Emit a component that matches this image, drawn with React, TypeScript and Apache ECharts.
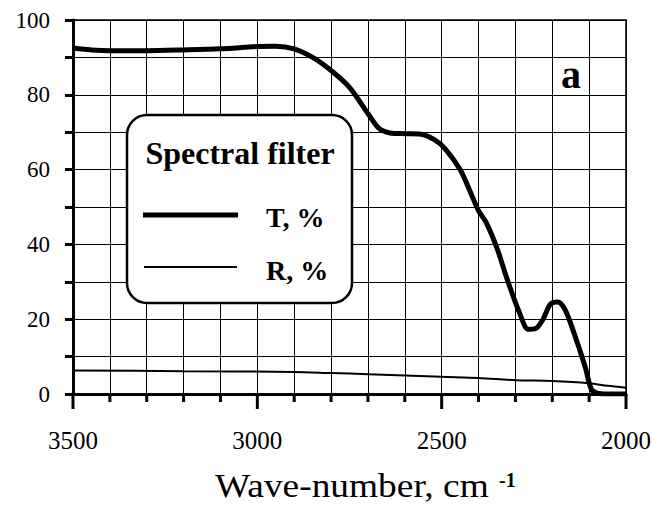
import React, { useEffect, useRef } from "react";
import * as echarts from "echarts";

const tWave = [3500, 3450, 3400, 3300, 3200, 3100, 3000, 2950, 2900, 2850, 2800, 2750, 2700, 2670, 2640, 2600, 2560, 2520, 2490, 2450, 2420, 2400, 2380, 2350, 2320, 2290, 2265, 2245, 2225, 2205, 2185, 2165, 2140, 2110, 2095, 2080, 2050, 2000];
const tValues = [92.5, 92.0, 91.8, 91.8, 92.0, 92.3, 92.9, 93.0, 92.3, 90.0, 86.5, 82.0, 75.0, 71.0, 69.8, 69.6, 69.5, 68.0, 65.5, 60.0, 53.5, 49.0, 46.0, 39.0, 30.0, 22.0, 17.3, 17.5, 20.0, 24.0, 24.6, 22.5, 16.0, 7.0, 1.5, 0.3, 0.0, 0.0];
const rWave = [3500, 3200, 2900, 2800, 2700, 2500, 2400, 2300, 2200, 2100, 2050, 2000];
const rValues = [6.3, 6.1, 5.9, 5.6, 5.3, 4.6, 4.3, 3.7, 3.5, 2.9, 2.2, 1.7];
const xTickPositions = [3500, 3400, 3300, 3200, 3100, 3000, 2900, 2800, 2700, 2600, 2500, 2400, 2300, 2200, 2100, 2000];
const yTicks = [0, 20, 40, 60, 80, 100];
const legendTitle = "Spectral filter";
const seriesNames = ["T, %", "R, %"];
const panelLabel = "a";
const axisTitle = "Wave-number, cm";
const axisTitleSup = "-1";

const SERIF = "Liberation Serif";

export default function App() {
  const ref = useRef<HTMLDivElement>(null);
  useEffect(() => {
    if (!ref.current) return;
    const chart = echarts.init(ref.current, undefined, { renderer: "svg" });
    const blackLine = { color: "#000", width: 3 };
    chart.setOption({
      animation: false,
      backgroundColor: "#fff",
      textStyle: { fontFamily: SERIF },
      grid: { left: 73, right: 26, top: 20, bottom: 114, show: true, borderColor: "#000", borderWidth: 1.5, backgroundColor: "transparent", outerBoundsMode: "none", containLabel: false },
      xAxis: {
        type: "value",
        inverse: true,
        min: 2000,
        max: 3500,
        interval: 500,
        axisLine: { show: true, onZero: false, lineStyle: blackLine },
        axisTick: { show: false },
        splitLine: { show: true, lineStyle: { color: "#000", width: 1 } },
        minorSplitLine: { show: true, lineStyle: { color: "#000", width: 1 } },
        minorTick: { show: false, splitNumber: 5 },
        axisLabel: {
          margin: 34,
          color: "#000",
          fontFamily: SERIF,
          fontSize: 25,
          formatter: (v: number) => String(v),
        },
      },
      yAxis: {
        type: "value",
        min: 0,
        max: 100,
        interval: 10,
        axisLine: { show: true, onZero: false, lineStyle: blackLine },
        axisTick: { show: true, inside: false, length: 8, lineStyle: blackLine },
        splitLine: { show: true, lineStyle: { color: "#000", width: 1 } },
        axisLabel: {
          margin: 23,
          color: "#000",
          fontFamily: SERIF,
          fontSize: 23,
          formatter: (v: number) => (yTicks.includes(v) ? String(v) : ""),
        },
      },
      series: [
        {
          name: seriesNames[0],
          type: "line",
          data: tWave.map((w, i) => [w, tValues[i]]),
          smooth: 0.3,
          showSymbol: false,
          lineStyle: { color: "#000", width: 5 },
          z: 5,
        },
        {
          name: seriesNames[1],
          type: "line",
          data: rWave.map((w, i) => [w, rValues[i]]),
          smooth: 0.3,
          showSymbol: false,
          lineStyle: { color: "#000", width: 2 },
          z: 4,
        },
        {
          name: "xticks",
          type: "custom",
          clip: false,
          silent: true,
          data: xTickPositions.map((w) => [w, 0]),
          renderItem: (params: any, api: any) => {
            const v = api.value(0);
            const p = api.coord([v, 0]);
            const len = v % 500 === 0 ? 15 : 8;
            return {
              type: "line",
              shape: { x1: p[0], y1: p[1], x2: p[0], y2: p[1] + len },
              style: { stroke: "#000", lineWidth: 3 },
            };
          },
          z: 6,
        },
      ],
      graphic: [
        {
          type: "rect",
          shape: { x: 127, y: 115, width: 225, height: 188, r: 20 },
          style: { fill: "#fff", stroke: "#000", lineWidth: 2.5 },
          z: 100,
        },
        {
          type: "text",
          x: 240,
          y: 153,
          style: { text: legendTitle, fontFamily: SERIF, fontSize: 32, fontWeight: "bold", fill: "#000", align: "center", verticalAlign: "middle" },
          z: 101,
        },
        {
          type: "line",
          shape: { x1: 143, y1: 215, x2: 238, y2: 215 },
          style: { stroke: "#000", lineWidth: 5 },
          z: 101,
        },
        {
          type: "text",
          x: 266,
          y: 217,
          style: { text: seriesNames[0], fontFamily: SERIF, fontSize: 28, fontWeight: "bold", fill: "#000", align: "left", verticalAlign: "middle" },
          z: 101,
        },
        {
          type: "line",
          shape: { x1: 144, y1: 267, x2: 237, y2: 267 },
          style: { stroke: "#000", lineWidth: 2 },
          z: 101,
        },
        {
          type: "text",
          x: 266,
          y: 270,
          style: { text: seriesNames[1], fontFamily: SERIF, fontSize: 28, fontWeight: "bold", fill: "#000", align: "left", verticalAlign: "middle" },
          z: 101,
        },
        {
          type: "text",
          x: 571,
          y: 74,
          style: { text: panelLabel, fontFamily: SERIF, fontSize: 40, fontWeight: "bold", fill: "#000", align: "center", verticalAlign: "middle" },
          z: 101,
        },
        {
          type: "text",
          x: 215,
          y: 486,
          scaleX: 1.1,
          style: { text: axisTitle, fontFamily: SERIF, fontSize: 34, fill: "#000", align: "left", verticalAlign: "middle" },
          z: 101,
        },
        {
          type: "text",
          x: 499,
          y: 480,
          style: { text: axisTitleSup, fontFamily: SERIF, fontSize: 20, fontWeight: "bold", fill: "#000", align: "left", verticalAlign: "middle" },
          z: 101,
        },
      ],
    });
    return () => chart.dispose();
  }, []);
  return <div ref={ref} style={{ width: 652, height: 508, position: "absolute", left: 0, top: 0 }} />;
}
